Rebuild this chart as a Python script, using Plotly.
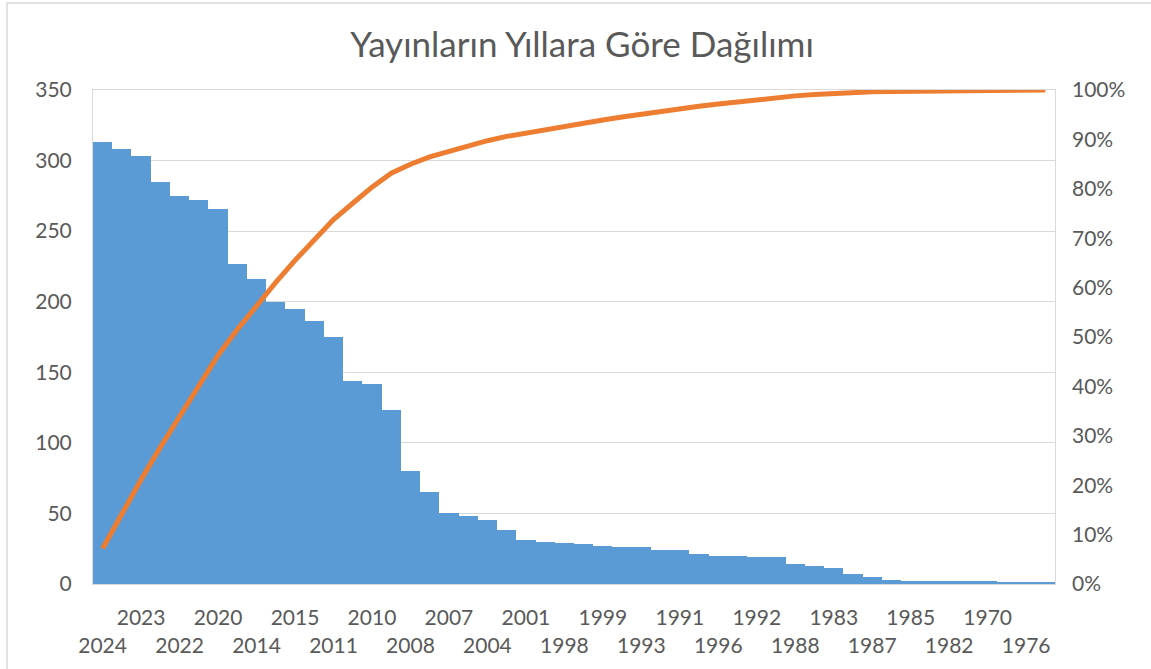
import plotly.graph_objects as go

# ---- data ----
counts = [313, 308, 303, 285, 275, 272, 266, 227, 216, 200,
          195, 186, 175, 144, 142, 123, 80, 65, 50, 48,
          45, 38, 31, 30, 29, 28, 27, 26, 26, 24,
          24, 21, 20, 20, 19, 19, 14, 13, 11, 7,
          5, 3, 2, 2, 2, 2, 2, 1, 1, 1]

# labels shown under every second bar (Excel staggered labels)
tick_labels = ["2024", "2023", "2022", "2020", "2014", "2015", "2011", "2010",
               "2008", "2007", "2004", "2001", "1998", "1999", "1993", "1991",
               "1996", "1992", "1988", "1983", "1987", "1985", "1982", "1970",
               "1976"]

total = sum(counts)
cum = []
s = 0
for c in counts:
    s += c
    cum.append(s / total)

x = list(range(len(counts)))
tickvals = x[::2]
ticktext = [("<br>" + t) if i % 2 == 0 else t for i, t in enumerate(tick_labels)]

TXT = "#595959"
GRID = "#d9d9d9"
FONT = "Lato"

fig = go.Figure()
fig.add_trace(go.Bar(x=x, y=counts, marker=dict(color="#5B9BD5", line=dict(width=0)),
                     yaxis="y", showlegend=False))
fig.add_trace(go.Scatter(x=x, y=cum, mode="lines", line=dict(color="#ED7D31", width=5),
                         yaxis="y2", showlegend=False))

L, R, T, B = 93, 1055, 90, 584
W, H = 1151, 669

fig.update_layout(
    width=W, height=H,
    margin=dict(l=L, r=W - R, t=T, b=H - B, autoexpand=False),
    paper_bgcolor="white", plot_bgcolor="white",
    bargap=0,
    font=dict(family=FONT, color=TXT, size=21),
    title=dict(text="Yayınların Yıllara Göre Dağılımı", x=(582) / W, xanchor="center",
               y=1 - 45 / H, yanchor="middle",
               font=dict(family=FONT, size=35, color=TXT)),
    xaxis=dict(range=[-0.5, len(counts) - 0.5], tickmode="array", tickvals=tickvals,
               ticktext=ticktext, showgrid=False, showline=True, linecolor=GRID,
               mirror=True, ticks="", zeroline=False, tickangle=0, automargin=False,
               ticklabelstandoff=15, tickfont=dict(size=21, color=TXT)),
    yaxis=dict(range=[0, 350], dtick=50, showgrid=True, gridcolor=GRID, gridwidth=1,
               showline=True, linecolor=GRID, mirror=True, ticks="", zeroline=False,
               automargin=False,
               ticklabelstandoff=16, tickfont=dict(size=21, color=TXT)),
    yaxis2=dict(range=[0, 1], dtick=0.1, tickformat=".0%", overlaying="y", side="right",
                showgrid=False, showline=False, ticks="", zeroline=False, automargin=False,
                ticklabelstandoff=16, tickfont=dict(size=21, color=TXT)),
)

pw, ph = R - L, B - T
fig.add_shape(type="rect", xref="paper", yref="paper",
              x0=(7 - L) / pw, x1=(1160 - L) / pw,
              y0=(B - 680) / ph, y1=(B - 3) / ph,
              line=dict(color=GRID, width=1.5), fillcolor="rgba(0,0,0,0)", layer="below")

fig.write_html("out.html", config={"displayModeBar": False},
               post_script="document.body.style.margin='0px';document.body.style.overflow='hidden';")
